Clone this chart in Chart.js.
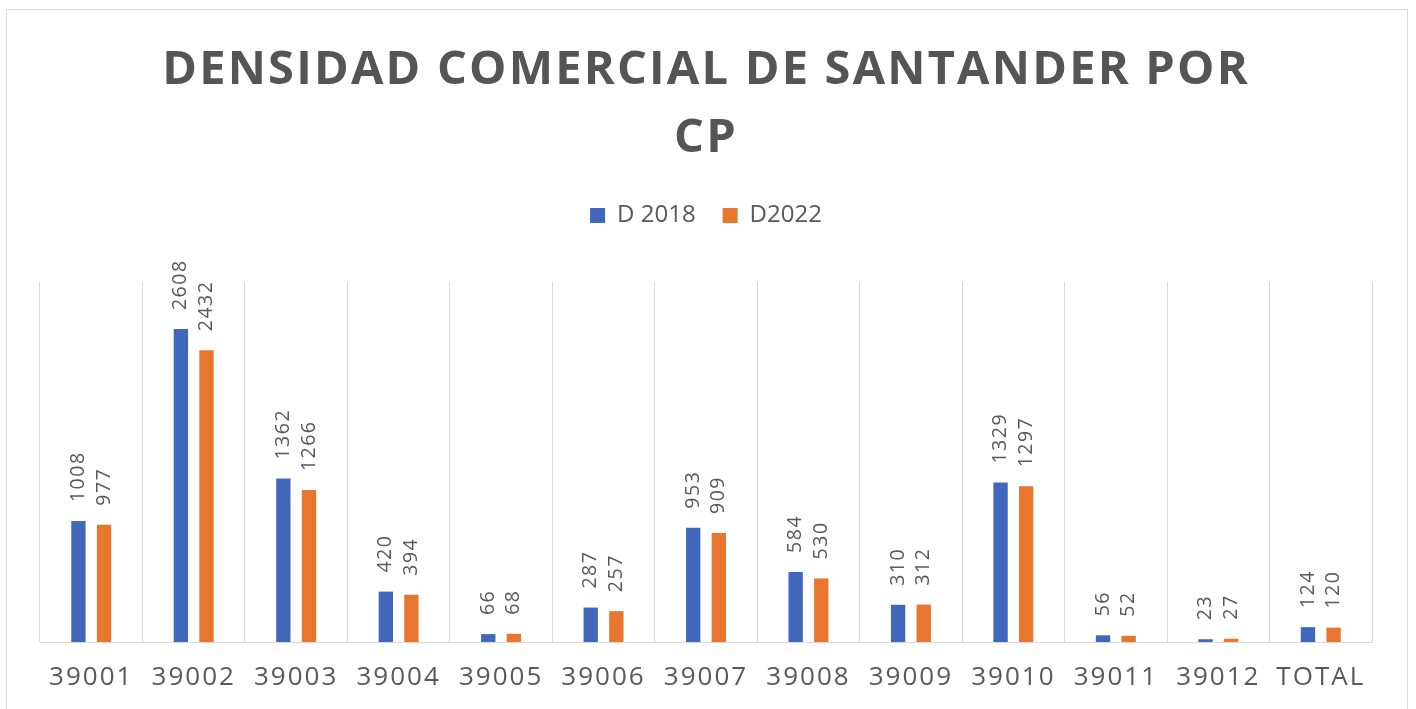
<!DOCTYPE html>
<html>
<head>
<meta charset="utf-8">
<title>Densidad comercial de Santander por CP</title>
<script src="https://cdn.jsdelivr.net/npm/chart.js@4/dist/chart.umd.min.js"></script>
<style>
  html, body { margin: 0; padding: 0; background: #fff; overflow: hidden; }
  #chart { position: absolute; left: 0; top: 0; }
  #frame { position: absolute; left: 6px; top: 9px; width: 1400px; height: 720px;
           border: 1px solid #d9d9d9; pointer-events: none; }
</style>
</head>
<body>
<canvas id="chart" width="1416" height="730"></canvas>
<div id="frame"></div>
<script>
// Values
const categories = ['39001', '39002', '39003', '39004', '39005', '39006', '39007',
                    '39008', '39009', '39010', '39011', '39012', 'TOTAL'];
const d2018 = [1008, 2608, 1362, 420, 66, 287, 953, 584, 310, 1329, 56, 23, 124];
const d2022 = [977, 2432, 1266, 394, 68, 257, 909, 530, 312, 1297, 52, 27, 120];
const seriesNames = ['D 2018', 'D2022'];
const titleLines = ['DENSIDAD COMERCIAL DE SANTANDER POR', 'CP'];

const BLUE = '#4167bd';
const ORANGE = '#e8762f';
const GRID = '#d9d9d9';
const TEXT = '#595959';
const LABEL_GAP = 19;

Chart.defaults.font.family = '"Open Sans", "Liberation Sans", sans-serif';

// Run a draw/fit call with canvas letter spacing switched on
function withSpacing(obj, name, spacing) {
  const orig = obj[name];
  obj[name] = function (...args) {
    const ctx = this.ctx;
    ctx.letterSpacing = spacing;
    const r = orig.apply(this, args);
    ctx.letterSpacing = '0px';
    return r;
  };
}

const spacingPlugin = {
  id: 'spacing',
  afterInit(chart) {
    const tb = chart.titleBlock;
    if (tb && !tb._patched) {
      withSpacing(tb, 'draw', '2.2px');
      tb._patched = true;
    }
    const legend = chart.legend;
    if (legend && !legend._patched) {
      // extra room between legend and plot area
      const fit = legend.fit;
      legend.fit = function (...args) {
        fit.apply(this, args);
        this.height += 44.5;
      };
      legend._patched = true;
    }
  },
  beforeDraw(chart) {
    const x = chart.scales.x;
    if (x && !x._patched) {
      withSpacing(x, 'drawLabels', '2px');
      x._patched = true;
    }
  }
};

// Vertical value labels above each bar
const barLabels = {
  id: 'barLabels',
  afterDatasetsDraw(chart) {
    const ctx = chart.ctx;
    ctx.save();
    ctx.font = '19.5px "Open Sans", sans-serif';
    ctx.letterSpacing = '1.5px';
    ctx.fillStyle = TEXT;
    ctx.textAlign = 'left';
    ctx.textBaseline = 'middle';
    chart.data.datasets.forEach((ds, i) => {
      chart.getDatasetMeta(i).data.forEach((bar, j) => {
        ctx.save();
        ctx.translate(bar.x, bar.y - LABEL_GAP);
        ctx.rotate(-Math.PI / 2);
        ctx.fillText(String(ds.data[j]), 0, 0);
        ctx.restore();
      });
    });
    ctx.letterSpacing = '0px';
    ctx.restore();
  }
};

new Chart(document.getElementById('chart'), {
  type: 'bar',
  data: {
    labels: categories,
    datasets: [
      { label: seriesNames[0], data: d2018, backgroundColor: BLUE },
      { label: seriesNames[1], data: d2022, backgroundColor: ORANGE }
    ]
  },
  options: {
    responsive: false,
    animation: false,
    devicePixelRatio: 1,
    categoryPercentage: 0.5,
    barPercentage: 0.56,
    layout: { padding: { top: 0, left: 40, right: 44, bottom: 17.8 } },
    plugins: {
      title: {
        display: true,
        text: titleLines,
        color: '#555555',
        font: { size: 47, weight: 'bold', lineHeight: 1.447 },
        padding: { top: 37, bottom: 3.5 }
      },
      legend: {
        display: true,
        labels: {
          boxWidth: 15,
          boxHeight: 15,
          padding: 27,
          color: TEXT,
          font: { size: 24 }
        }
      },
      tooltip: { enabled: false }
    },
    scales: {
      x: {
        grid: { color: GRID, drawTicks: false, offset: true },
        border: { color: GRID },
        ticks: { color: TEXT, padding: 19.5, font: { size: 26 }, maxRotation: 0, autoSkip: false }
      },
      y: { display: false, min: 0, max: 3000 }
    }
  },
  plugins: [spacingPlugin, barLabels]
});
</script>
</body>
</html>
